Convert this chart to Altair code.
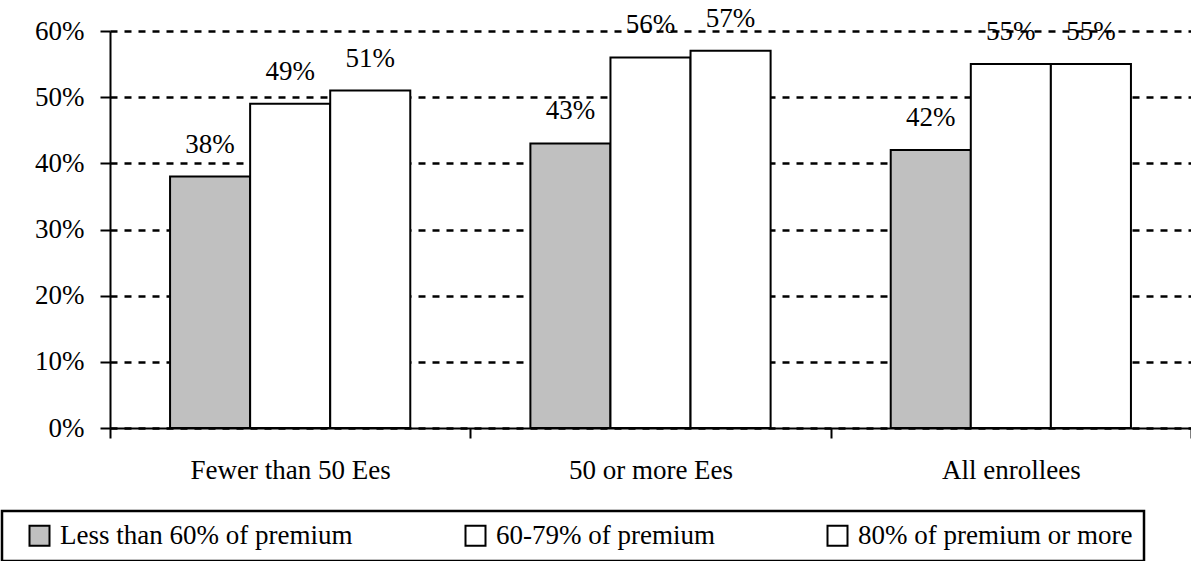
import altair as alt
import pandas as pd

categories = ["Fewer than 50 Ees", "50 or more Ees", "All enrollees"]
series = ["Less than 60% of premium", "60-79% of premium", "80% of premium or more"]
less_than_60 = [0.38, 0.43, 0.42]
pct_60_79 = [0.49, 0.56, 0.55]
pct_80_plus = [0.51, 0.57, 0.55]
y_ticks = [0.0, 0.1, 0.2, 0.3, 0.4, 0.5, 0.6]
colors = ["#C0C0C0", "#FFFFFF", "#FFFFFF"]

rows = []
for i, c in enumerate(categories):
    for s, vals in zip(series, [less_than_60, pct_60_79, pct_80_plus]):
        rows.append({"category": c, "series": s, "value": vals[i]})
df = pd.DataFrame(rows)

FONT = "Liberation Serif"
FS = 27

x = alt.X(
    "category:N", sort=categories, title=None,
    scale=alt.Scale(paddingInner=0, paddingOuter=0),
    axis=alt.Axis(labelAngle=0, tickBand="extent", ticks=True, tickSize=10,
                  tickColor="black", tickWidth=2, domainColor="black", domainWidth=2,
                  labelPadding=19, labelFont=FONT, labelFontSize=FS, labelColor="black",
                  grid=False, labelLimit=600),
)
xo = alt.XOffset("series:N", sort=series,
                 scale=alt.Scale(paddingInner=0, paddingOuter=0.75))
y = alt.Y(
    "value:Q", title=None,
    scale=alt.Scale(domain=[0, 0.6], nice=False),
    axis=alt.Axis(format=".0%", values=y_ticks, grid=True, gridColor="black",
                  gridDash=[7, 7], gridWidth=2.5, tickSize=10, tickColor="black",
                  tickWidth=2, domainColor="black", domainWidth=2, labelPadding=16,
                  labelFont=FONT, labelFontSize=FS, labelColor="black"),
)

bars = alt.Chart(df).mark_bar(stroke="black", strokeWidth=2).encode(
    x=x, xOffset=xo, y=y,
    color=alt.Color(
        "series:N", sort=series,
        scale=alt.Scale(domain=series, range=colors),
        legend=alt.Legend(
            title=" ", titleOrient="left", titlePadding=13, titleFont=FONT, titleFontSize=FS,
            orient="none", legendX=-108, legendY=480, direction="horizontal",
            symbolType="square", symbolSize=400, symbolStrokeColor="black",
            symbolStrokeWidth=2, labelFont=FONT, labelFontSize=FS, labelColor="black",
            labelOffset=7, columnPadding=108, padding=11, strokeColor="black",
            labelLimit=600,
        ),
    ),
)

labels = alt.Chart(df).mark_text(
    baseline="alphabetic", dy=-24, font=FONT, fontSize=FS, color="black"
).encode(x=x, xOffset=xo, y=y, text=alt.Text("value:Q", format=".0%"))

chart = (
    alt.layer(bars, labels)
    .properties(
        width=1081, height=397,
        autosize=alt.AutoSizeParams(type="none"),
        padding={"left": 110, "top": 31, "right": 0, "bottom": 133},
        background="white",
    )
    .configure_view(strokeWidth=0)
    .configure_legend(strokeWidth=2.5)
)

chart.save("out.html", embed_options={"renderer": "svg", "actions": False})
